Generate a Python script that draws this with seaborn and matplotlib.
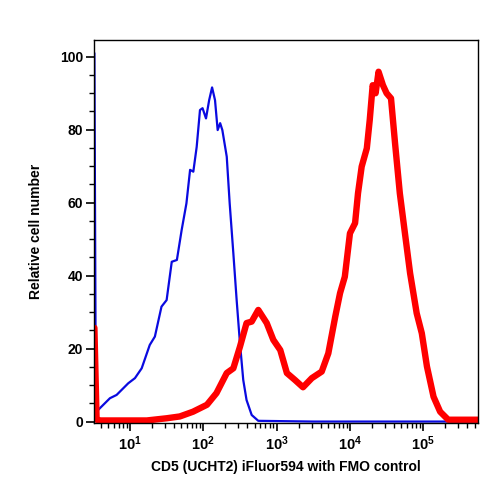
import numpy as np
import pandas as pd
import seaborn as sns
import matplotlib
matplotlib.use("Agg")
import matplotlib.pyplot as plt
from matplotlib.ticker import FixedLocator, LogLocator, MultipleLocator, NullFormatter

# ---- data (log10 of intensity, relative cell number) ----
fmo_log = [0.515, 0.535, 0.567, 0.727, 0.818, 0.977, 1.068, 1.16, 1.27, 1.34, 1.43,
           1.50, 1.57, 1.64, 1.705, 1.77, 1.82, 1.864, 1.91, 1.955, 1.99, 2.037,
           2.08, 2.12, 2.16, 2.196, 2.23, 2.26, 2.32, 2.36, 2.41, 2.455, 2.50,
           2.545, 2.59, 2.66, 2.75, 3.5, 4.5, 5.8]
fmo_val = [101, 2.8, 3.2, 6.4, 7.3, 10.5, 11.9, 14.6, 21.0, 23.3, 31.5,
           33.3, 43.8, 44.3, 52.5, 59.8, 69.0, 68.5, 75.3, 85.4, 85.9, 83.1,
           88.1, 91.6, 88.1, 79.9, 81.8, 79.9, 72.6, 59.8, 46.1, 33.3, 21.5,
           11.4, 5.9, 1.8, 0.2, 0.0, 0.0, 0.0]

cd5_log = [0.515, 0.545, 0.60, 1.23, 1.50, 1.68, 1.86, 2.05, 2.18, 2.32, 2.41,
           2.50, 2.59, 2.66, 2.75, 2.865, 2.955, 3.05, 3.14, 3.25, 3.36, 3.48,
           3.615, 3.705, 3.80, 3.865, 3.93, 4.00, 4.07, 4.11, 4.16, 4.23, 4.27,
           4.31, 4.35, 4.39, 4.45, 4.50, 4.56, 4.615, 4.68, 4.75, 4.82, 4.91,
           4.98, 5.05, 5.14, 5.23, 5.34, 5.8]
cd5_val = [25.7, 0.5, 0.3, 0.3, 0.9, 1.4, 2.7, 4.6, 7.8, 13.3, 14.6,
           20.5, 27.0, 27.4, 30.6, 27.0, 22.4, 19.6, 13.3, 11.4, 9.4, 11.9,
           13.7, 18.7, 28.8, 35.2, 39.7, 51.6, 54.4, 62.6, 69.9, 74.9, 82.7,
           92.2, 90.0, 95.9, 92.2, 90.0, 88.6, 76.3, 62.6, 51.6, 40.7, 29.7,
           24.2, 15.1, 6.8, 2.7, 0.5, 0.5]

xtick_vals = [1e1, 1e2, 1e3, 1e4, 1e5]
xtick_labels = [r"$10^{1}$", r"$10^{2}$", r"$10^{3}$", r"$10^{4}$", r"$10^{5}$"]
ytick_vals = [0, 20, 40, 60, 80, 100]

df = pd.concat([
    pd.DataFrame({"x": np.power(10.0, fmo_log), "y": fmo_val, "sample": "FMO"}),
    pd.DataFrame({"x": np.power(10.0, cd5_log), "y": cd5_val, "sample": "CD5"}),
])

sns.set_style("ticks")
plt.rcParams["font.family"] = ["Liberation Sans", "DejaVu Sans"]
plt.rcParams["mathtext.fontset"] = "custom"
plt.rcParams["mathtext.rm"] = "Liberation Sans:bold"
plt.rcParams["mathtext.it"] = "Liberation Sans:bold"
plt.rcParams["mathtext.bf"] = "Liberation Sans:bold"
plt.rcParams["text.color"] = "black"
plt.rcParams["axes.labelcolor"] = "black"
plt.rcParams["xtick.color"] = "black"
plt.rcParams["ytick.color"] = "black"

fig = plt.figure(figsize=(4.98, 4.9), dpi=100)
ax = fig.add_axes([0.1888, 0.1367, 0.771, 0.7817])

sns.lineplot(data=df[df["sample"] == "FMO"], x="x", y="y", ax=ax, color="#0a0ae0",
             linewidth=1.6, sort=False, estimator=None)
sns.lineplot(data=df[df["sample"] == "CD5"], x="x", y="y", ax=ax, color="#ff0000",
             linewidth=4.6, sort=False, estimator=None, solid_joinstyle="round")

ax.set_xscale("log")
ax.set_xlim(10 ** 0.51, 10 ** 5.746)
ax.set_ylim(-0.4, 104.6)

ax.xaxis.set_major_locator(FixedLocator(xtick_vals))
ax.set_xticklabels(xtick_labels, fontsize=10.5)
ax.xaxis.set_minor_locator(LogLocator(base=10, subs=np.arange(2, 10), numticks=20))
ax.xaxis.set_minor_formatter(NullFormatter())
ax.set_yticks(ytick_vals)
ax.set_yticklabels([str(v) for v in ytick_vals], fontsize=10, fontweight="bold")
ax.yaxis.set_minor_locator(MultipleLocator(5))

ax.tick_params(axis="both", which="major", direction="out", length=6, width=1.2, pad=2,
               colors="black")
ax.tick_params(axis="both", which="minor", direction="out", length=3.5, width=1,
               colors="black")
for s in ax.spines.values():
    s.set_linewidth(1.0)
    s.set_color("black")

ax.set_xlabel("CD5 (UCHT2) iFluor594 with FMO control", fontsize=10,
              fontweight="bold", labelpad=5)
ax.set_ylabel("Relative cell number", fontsize=10, fontweight="bold", labelpad=12)

fig.savefig("out.png", dpi=100)
